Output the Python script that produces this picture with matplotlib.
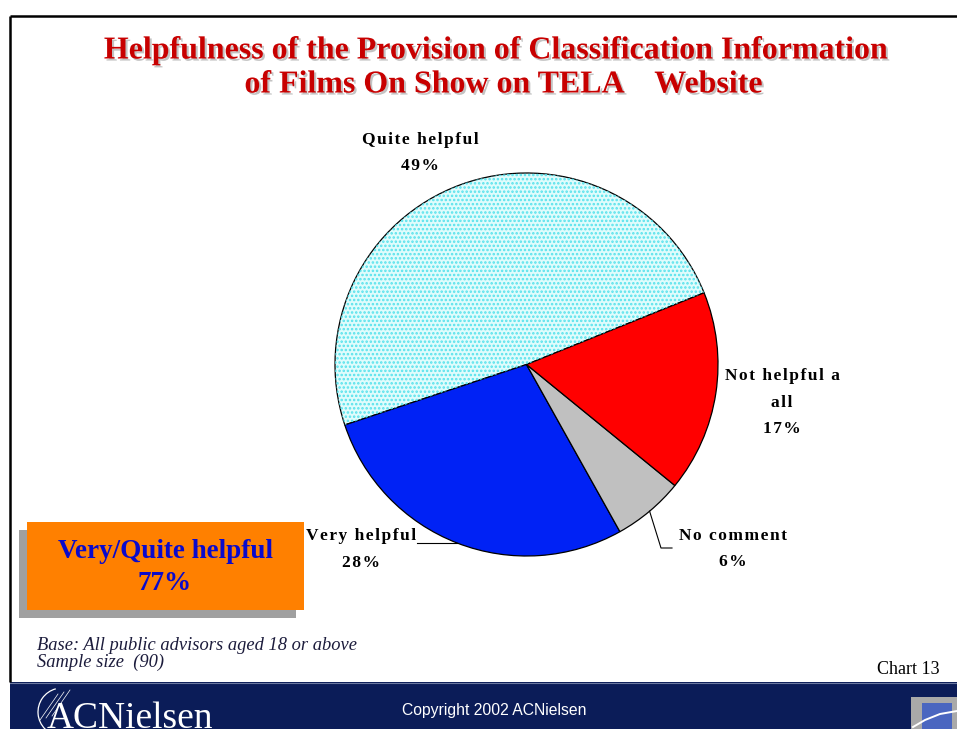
import numpy as np
import matplotlib
matplotlib.use("Agg")
import matplotlib.pyplot as plt
import matplotlib.patheffects as pe
from matplotlib.patches import Rectangle, Wedge, Arc

# data
labels = ["Quite helpful", "Very helpful", "No comment", "Not helpful a\nall"]
values = [49, 28, 6, 17]
colors = ["#E0FCFC", "#0022F5", "#C0C0C0", "#FF0000"]
summary_label = "Very/Quite helpful"
summary_value = 77

title1 = "Helpfulness of the Provision of Classification Information"
title2 = "of Films On Show on TELA    Website"
base_lines = ["Base: All public advisors aged 18 or above", "Sample size  (90)"]

SERIF = ["Liberation Serif", "DejaVu Serif"]
W, H = 957, 729

fig = plt.figure(figsize=(W / 100, H / 100), dpi=100)
fig.patch.set_facecolor("white")

# background axes in pixel coords
bg = fig.add_axes([0, 0, 1, 1])
bg.set_xlim(0, W)
bg.set_ylim(H, 0)
bg.axis("off")

# frame
bg.plot([10, W], [16, 16], color="black", lw=1.8, solid_capstyle="butt")
bg.plot([10, 10], [16, 682], color="black", lw=1.8, solid_capstyle="butt")

# title with shadow
shadow = [pe.withSimplePatchShadow(offset=(1.5, -1.5), shadow_rgbFace="#888888", alpha=0.5)]
for txt, y, x in [(title1, 51, 497), (title2, 85, 504)]:
    bg.text(x, y, txt, ha="center", va="center", fontsize=23, fontweight="bold",
            family=SERIF, color="#C80000", path_effects=shadow)

# pie
cx, cy, r = 526.5, 364.5, 191.5
ax = fig.add_axes([(cx - r) / W, (H - cy - r) / H, 2 * r / W, 2 * r / H])
wedges, _ = ax.pie(values, colors=colors, startangle=22, counterclock=True,
                   wedgeprops=dict(edgecolor="black", linewidth=0.9))
ax.set_xlim(-1, 1)
ax.set_ylim(-1, 1)
ax.patch.set_visible(False)

# dotted pattern on the "Quite helpful" slice
plt.rcParams["hatch.linewidth"] = 1.2
w0 = wedges[0]
dots = Wedge(w0.center, w0.r, w0.theta1, w0.theta2, facecolor="none",
             edgecolor="#55E2EC", linewidth=0, hatch="....")
ax.add_patch(dots)


def spaced(s):
    return "\n".join("\u200a".join(line) for line in s.split("\n"))


# slice labels (pixel positions)
label_pos = [(420, 153), (361, 549.5), (733, 549), (782, 402.5)]
for lab, val, (x, y) in zip(labels, values, label_pos):
    bg.text(x, y, spaced(lab + "\n" + f"{val}%"), ha="center", va="center",
            fontsize=12.5, fontweight="bold", family=SERIF, color="black",
            linespacing=1.9)

# leader lines from wedge mid-angles
def mid_point(w):
    a = np.deg2rad((w.theta1 + w.theta2) / 2)
    return np.cos(a), np.sin(a)

vx, vy = mid_point(wedges[1])
ax.plot([vx, (417 - cx) / r], [vy, vy], color="black", lw=0.8, clip_on=False)
nx, ny = mid_point(wedges[2])
ax.plot([nx, (661 - cx) / r, (672 - cx) / r],
        [ny, -(548 - cy) / r, -(548 - cy) / r], color="black", lw=0.8, clip_on=False)

# summary box with shadow
bg.add_patch(Rectangle((19, 530), 277, 88, facecolor="#A0A0A0", edgecolor="none"))
bg.add_patch(Rectangle((27, 522), 277, 88, facecolor="#FF8000", edgecolor="none"))
bg.text(165, 567.5, f"{summary_label}\n{summary_value}%", ha="center", va="center",
        fontsize=19.5, fontweight="bold", family=SERIF, color="#0A0ACC", linespacing=1.42)

# base note
for i, line in enumerate(base_lines):
    bg.text(37, 645 + 17.5 * i, line, ha="left", va="center", fontsize=13.3,
            style="italic", family=SERIF, color="#1C1C3C")

bg.text(940, 670, "Chart 13", ha="right", va="center", fontsize=13,
        family=SERIF, color="black")

# bottom band
bg.add_patch(Rectangle((10, 682), W - 10, H - 682, facecolor="#0B1C58", edgecolor="none"))
bg.plot([10, W], [682.5, 682.5], color="#6B78A0", lw=0.8)
bg.text(494, 710, "Copyright 2002 ACNielsen", ha="center", va="center",
        fontsize=11.3, family=["Liberation Sans", "DejaVu Sans"], color="white")
bg.text(47, 728, "ACNielsen", ha="left", va="baseline", fontsize=27,
        family=SERIF, color="white")
bg.add_patch(Arc((62, 712), 48, 48, theta1=95, theta2=255, color="white", lw=0.9))
for k in range(3):
    bg.plot([40 + 6 * k, 58 + 6 * k], [720 - 2 * k, 694 - 2 * k], color="white", lw=0.5)

# right logo
bg.add_patch(Rectangle((911, 697), 46, 32, facecolor="#A9A9A9", edgecolor="none"))
bg.add_patch(Rectangle((922, 703), 30, 26, facecolor="#4A66C0", edgecolor="none"))
bg.plot([913, 925, 940, 957], [727, 720, 714, 711], color="white", lw=1.4)

fig.savefig("out.png", dpi=100)
